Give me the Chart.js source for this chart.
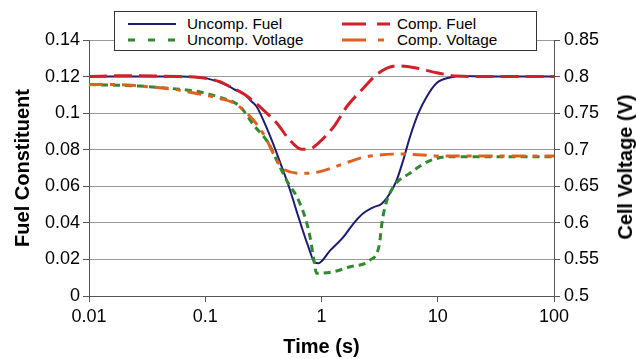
<!DOCTYPE html>
<html><head><meta charset="utf-8">
<script src="https://cdn.jsdelivr.net/npm/chart.js@4"></script>
<style>
html,body{margin:0;padding:0;background:#fff;}
#wrap{position:relative;width:636px;height:359px;}
#legend{position:absolute;left:114px;top:11px;width:421px;height:38px;border:1px solid #333;background:#fff;font-family:"Liberation Sans",Arial,sans-serif;font-size:15.3px;color:#000;}
.item{position:absolute;height:16px;line-height:16px;white-space:nowrap;}
.item svg{position:absolute;left:0;top:0;}
.item span{position:absolute;top:0;}
#rtitle{position:absolute;left:625px;top:167px;transform:translate(-50%,-50%) rotate(-90deg);font-family:"Liberation Sans",Arial,sans-serif;font-size:20px;font-weight:bold;white-space:nowrap;color:#000;line-height:24px;}
</style></head>
<body>
<div id="wrap"><canvas id="c" width="636" height="359"></canvas><div id="legend"></div><div id="rtitle">Cell Voltage (V)</div></div>
<script>
const xTicks = [0.01, 0.1, 1, 10, 100];
const leftTicks = [0, 0.02, 0.04, 0.06, 0.08, 0.1, 0.12, 0.14];
const rightTicks = [0.5, 0.55, 0.6, 0.65, 0.7, 0.75, 0.8, 0.85];

const uncompFuelT = [0.01,0.02,0.04,0.06,0.09,0.103,0.153,0.18,0.2125,0.251,0.277,0.306,0.373,0.455,0.536,0.632,0.77,0.879,0.939,1.183,1.54,1.877,2.289,2.79,3.295,3.882,4.436,5.054,5.772,6.803,8.035,9.795,12.75,16.59,30,100];
const uncompFuelV = [0.12,0.12,0.12,0.12,0.1195,0.119,0.1154,0.1128,0.1109,0.1063,0.1035,0.0981,0.0853,0.0707,0.058,0.0434,0.027,0.0182,0.0179,0.0248,0.0322,0.0395,0.0452,0.0485,0.0505,0.0562,0.0634,0.0744,0.0871,0.0999,0.109,0.1165,0.1195,0.1203,0.12,0.12];

const uncompVoltT = [0.01,0.0275,0.0408,0.0901,0.134,0.18,0.2,0.26,0.349,0.425,0.518,0.612,0.721,0.796,0.85,0.909,1.25,1.758,2.612,3.143,3.295,3.518,4.146,5.772,8.293,12.75,20,100];
const uncompVoltV = [0.789,0.787,0.785,0.779,0.7716,0.764,0.759,0.734,0.709,0.681,0.654,0.636,0.608,0.581,0.554,0.531,0.533,0.540,0.549,0.570,0.597,0.622,0.649,0.668,0.684,0.6905,0.6905,0.6905];

const compFuelT = [0.01,0.02,0.06,0.09,0.134,0.153,0.22,0.317,0.425,0.518,0.6755,0.796,0.97,1.306,1.647,2.289,3.081,4.436,6.163,9.795,14.56,25,100];
const compFuelV = [0.12,0.1205,0.12,0.1195,0.1172,0.1154,0.110,0.1017,0.0935,0.0862,0.0802,0.0805,0.0844,0.0935,0.1035,0.1136,0.1218,0.1258,0.125,0.1221,0.1203,0.12,0.12];

const compVoltT = [0.01,0.0185,0.0275,0.0533,0.0901,0.134,0.18,0.259,0.327,0.398,0.485,0.721,0.97,1.442,2.289,3.184,4.735,7.511,9.795,100];
const compVoltV = [0.789,0.789,0.787,0.7826,0.776,0.770,0.763,0.7406,0.7178,0.6905,0.6723,0.6677,0.670,0.679,0.6896,0.6928,0.6941,0.6928,0.6914,0.6914];

const seriesNames = ['Uncomp. Fuel', 'Uncomp. Votlage', 'Comp. Fuel', 'Comp. Voltage'];
const seriesColors = ['#1c1c72', '#2f8a2f', '#d0202a', '#e0601e'];

const pts = (t, v) => t.map((x, i) => ({x: x, y: v[i]}));
const FONT = '"Liberation Sans", Arial, sans-serif';
const fmt = v => String(parseFloat(Number(v).toFixed(4)));
const setTicks = arr => (scale) => { scale.ticks = arr.map(v => ({value: v})); };

const datasets = [
  {label: seriesNames[0], data: pts(uncompFuelT, uncompFuelV), yAxisID: 'y', borderColor: seriesColors[0], borderWidth: 2, order: 4},
  {label: seriesNames[1], data: pts(uncompVoltT, uncompVoltV), yAxisID: 'y1', borderColor: seriesColors[1], borderWidth: 3, borderDash: [7, 5], order: 3},
  {label: seriesNames[2], data: pts(compFuelT, compFuelV), yAxisID: 'y', borderColor: seriesColors[2], borderWidth: 3, borderDash: [18, 7], order: 2},
  {label: seriesNames[3], data: pts(compVoltT, compVoltV), yAxisID: 'y1', borderColor: seriesColors[3], borderWidth: 3, borderDash: [14, 7, 5, 7], order: 1}
].map(d => Object.assign(d, {pointRadius: 0, fill: false, cubicInterpolationMode: 'monotone', borderCapStyle: 'butt'}));

new Chart(document.getElementById('c'), {
  type: 'line',
  data: {datasets: datasets},
  options: {
    responsive: false, animation: false,
    layout: {padding: {top: 40, left: 0, right: 0, bottom: 0}},
    plugins: {legend: {display: false}, tooltip: {enabled: false}},
    scales: {
      x: {
        type: 'logarithmic', min: 0.01, max: 100,
        afterBuildTicks: setTicks(xTicks),
        afterFit: s => { s.height = 63; },
        grid: {drawOnChartArea: false, drawTicks: true, tickLength: 6, color: '#555'},
        border: {color: '#555', width: 1},
        ticks: {color: '#000', font: {family: FONT, size: 18}, padding: 4, maxRotation: 0, autoSkip: false, callback: v => fmt(v)},
        title: {display: true, text: 'Time (s)', color: '#000', font: {family: FONT, size: 20, weight: 'bold'}, padding: {top: 0, bottom: 0}}
      },
      y: {
        position: 'left', min: 0, max: 0.14,
        afterBuildTicks: setTicks(leftTicks),
        afterFit: s => { s.width = 89; },
        grid: {color: '#999', tickColor: '#555', tickLength: 6, lineWidth: 1},
        border: {color: '#555', width: 1},
        ticks: {color: '#000', font: {family: FONT, size: 18}, padding: 3, autoSkip: false, callback: v => fmt(v)},
        title: {display: true, text: 'Fuel Constituent', color: '#000', font: {family: FONT, size: 20, weight: 'bold'}, padding: {top: 11, bottom: 0}}
      },
      y1: {
        position: 'right', min: 0.5, max: 0.85,
        afterBuildTicks: setTicks(rightTicks),
        afterFit: s => { s.width = 82; },
        grid: {drawOnChartArea: false, color: '#555', tickLength: 6},
        border: {color: '#555', width: 1},
        ticks: {color: '#000', font: {family: FONT, size: 18}, padding: 4, autoSkip: false, callback: v => fmt(v)},
        title: {display: false}
      }
    }
  }
});

// HTML legend
const legend = document.getElementById('legend');
const legendPos = [[13, 72, 4], [13, 72, 20], [227, 282, 4], [227, 282, 20]];
const legendDash = ['', '7 13', '24 11', '24 12 6 12'];
const legendWidth = [2, 3, 3, 3];
seriesNames.forEach((name, i) => {
  const [sx, tx, ty] = legendPos[i];
  const item = document.createElement('div');
  item.className = 'item';
  item.style.left = sx + 'px';
  item.style.top = ty + 'px';
  item.innerHTML = '<svg width="50" height="16"><line x1="0" y1="8" x2="48" y2="8" stroke="' + seriesColors[i] +
    '" stroke-width="' + legendWidth[i] + '"' + (legendDash[i] ? ' stroke-dasharray="' + legendDash[i] + '"' : '') + '/></svg>' +
    '<span style="left:' + (tx - sx) + 'px">' + name + '</span>';
  legend.appendChild(item);
});
</script>
</body></html>
